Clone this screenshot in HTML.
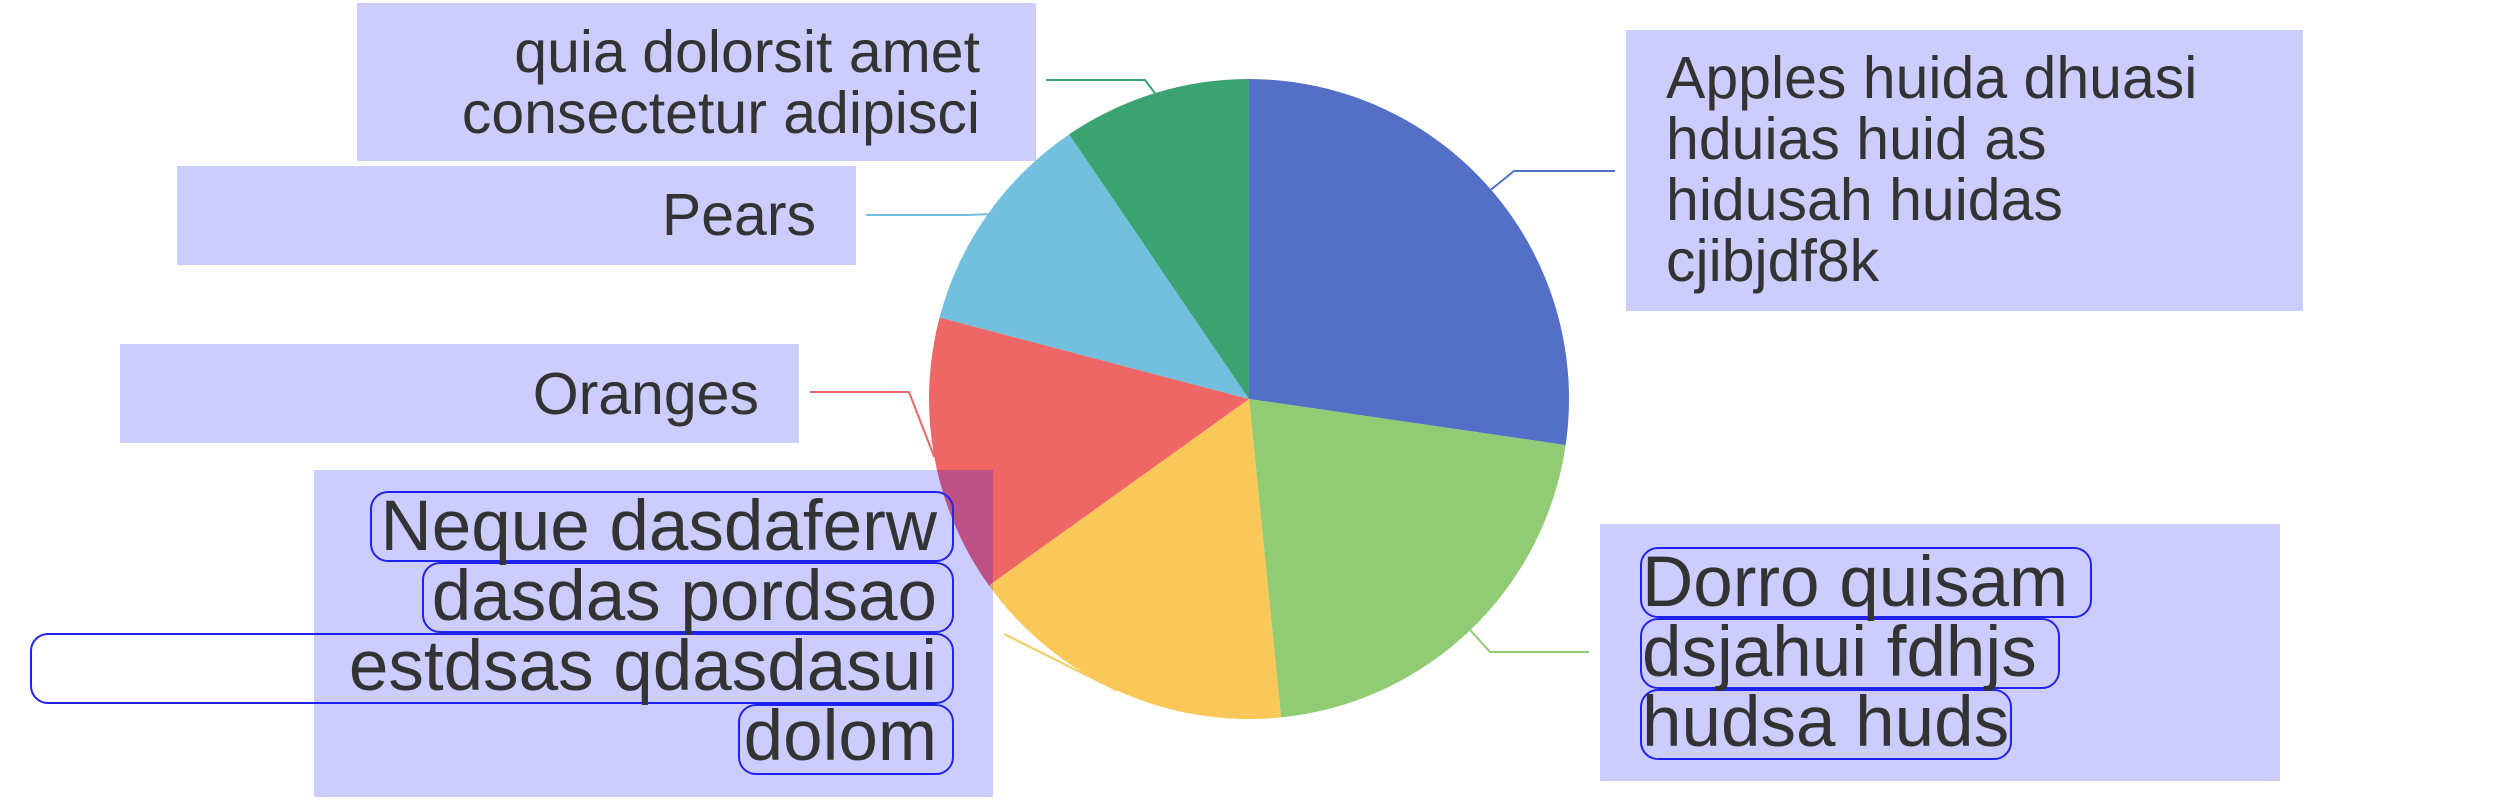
<!DOCTYPE html>
<html><head><meta charset="utf-8"><style>
html,body{margin:0;padding:0;background:#fff;}
#wrap{position:relative;width:2500px;height:800px;overflow:hidden;font-family:"Liberation Sans",sans-serif;color:#333;}
svg{position:absolute;left:0;top:0;}
.box{position:absolute;background:rgba(0,0,255,0.2);box-sizing:border-box;}
.t{position:absolute;white-space:nowrap;font-size:59px;line-height:61px;}
.o{position:absolute;border:2px solid #2222ee;border-radius:18px;box-sizing:border-box;}
.big{position:absolute;white-space:nowrap;font-size:71px;line-height:70px;}
</style></head><body>
<div id="wrap">
<svg id="chart" width="2500" height="800"></svg>

<div class="box" style="left:357px;top:3px;width:679px;height:158px"></div>
<div class="t" style="right:1520px;top:22px;text-align:right">quia dolorsit amet<br>consectetur adipisci</div>

<div class="box" style="left:177px;top:166px;width:679px;height:99px"></div>
<div class="t" style="right:1684px;top:185px">Pears</div>

<div class="box" style="left:120px;top:344px;width:679px;height:99px"></div>
<div class="t" style="right:1741px;top:364px">Oranges</div>

<div class="box" style="left:1626px;top:30px;width:677px;height:281px"></div>
<div class="t" style="left:1666px;top:48px">Apples huida dhuasi<br>hduias huid as<br>hidusah huidas<br>cjibjdf8k</div>

<div class="box" style="left:1600px;top:524px;width:680px;height:257px"></div>
<div class="o" style="left:1640px;top:547px;width:452px;height:71px"></div>
<div class="o" style="left:1640px;top:618px;width:420px;height:71px"></div>
<div class="o" style="left:1640px;top:689px;width:372px;height:71px"></div>
<div class="big" style="left:1642px;top:548px">Dorro quisam<br>dsjahui fdhjs<br>hudsa huds</div>

<div class="box" style="left:314px;top:470px;width:679px;height:327px"></div>
<div class="o" style="left:370px;top:491px;width:584px;height:71px"></div>
<div class="o" style="left:422px;top:562px;width:532px;height:71px"></div>
<div class="o" style="left:30px;top:633px;width:924px;height:71px"></div>
<div class="o" style="left:738px;top:704px;width:216px;height:71px"></div>
<div class="big" style="right:1563px;top:492px;text-align:right">Neque dasdaferw<br>dasdas pordsao<br>estdsas qdasdasui<br>dolom</div>
</div>
<script>
const categories=["Apples","Dorro","Neque","Oranges","Pears","quia"];
const values=[27.3,21.1,16.7,14.0,11.4,9.5];
const colors=["#5470c6","#91cc75","#fac858","#ee6666","#73c0de","#3ba272"];
const cx=1249,cy=399,R=320;
const svg=document.getElementById('chart');
const NS='http://www.w3.org/2000/svg';
const total=values.reduce((a,b)=>a+b,0);
function pt(a,r){return [cx+r*Math.sin(a),cy-r*Math.cos(a)];}
let a0=0;
const mids=[];
values.forEach((v,i)=>{
  const a1=a0+v/total*2*Math.PI;
  const p0=pt(a0,R),p1=pt(a1,R);
  const large=(a1-a0)>Math.PI?1:0;
  const path=document.createElementNS(NS,'path');
  path.setAttribute('d',`M${cx},${cy} L${p0[0]},${p0[1]} A${R},${R} 0 ${large} 1 ${p1[0]},${p1[1]} Z`);
  path.setAttribute('fill',colors[i]);
  
  
  svg.appendChild(path);
  mids.push((a0+a1)/2);
  a0=a1;
});
// leader lines: edge -> knee -> label end
const knees=[[1514,171],[1490,652],null,[909,392],[968,215],[1145,80]];
const ends=[[1615,171],[1589,652],[1004,634],[810,392],[866,215],[1046,80]];
mids.forEach((m,i)=>{
  const p=pt(m,R);
  const e=ends[i],k=knees[i];
  const pl=document.createElementNS(NS,'polyline');
  const pts=k?`${p[0]},${p[1]} ${k[0]},${k[1]} ${e[0]},${e[1]}`:`${p[0]},${p[1]} ${e[0]},${e[1]}`;
  pl.setAttribute('points',pts);
  pl.setAttribute('fill','none');
  pl.setAttribute('stroke',colors[i]);
  pl.setAttribute('stroke-width','2');
  
  
  svg.appendChild(pl);
});
</script>
</body></html>
